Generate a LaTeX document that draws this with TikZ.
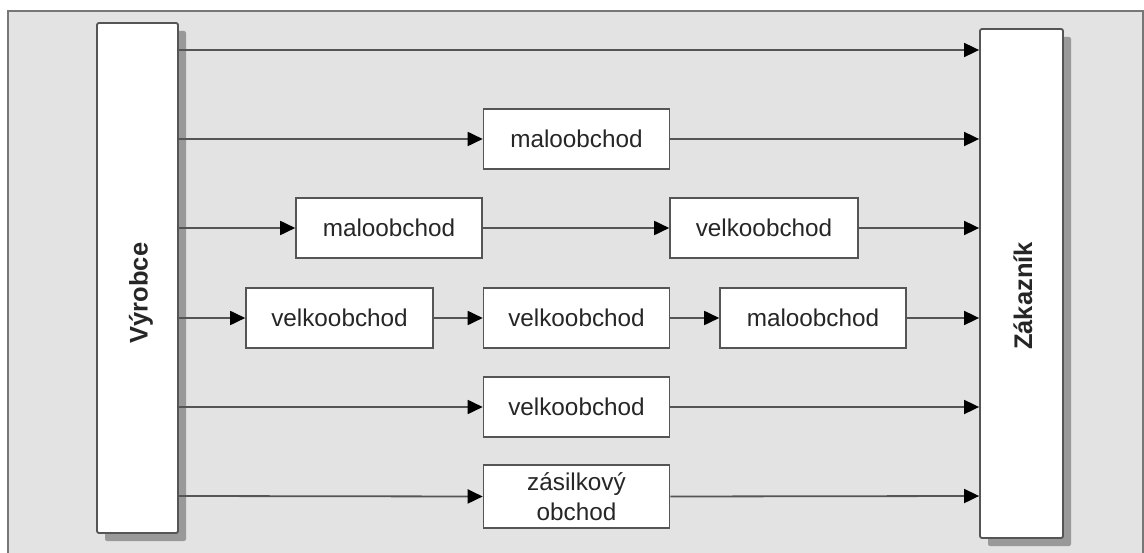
\documentclass[tikz,border=0pt]{standalone}
\usepackage{fontspec}
\setmainfont{Liberation Sans}
\usetikzlibrary{arrows.meta,shadows}
\definecolor{bg}{HTML}{E3E3E3}
\definecolor{ln}{HTML}{555555}
\definecolor{sh}{HTML}{999999}
\tikzset{
  bigbox/.style={draw=ln, line width=1.8pt, fill=white, rounded corners=2pt,
    drop shadow={shadow xshift=8pt, shadow yshift=-8pt, fill=sh, opacity=1},
    inner sep=0pt},
  smallbox/.style={draw=ln, line width=1.6pt, fill=white, minimum width=186pt,
    minimum height=60pt, inner sep=0pt, align=center,
    font=\fontsize{24.3}{30}\selectfont, text=black!85},
  arr/.style={draw=ln, line width=1.8pt, -{Triangle[length=15pt,width=14pt,fill=black,color=black]}},
  bigtext/.style={font=\bfseries\fontsize{25.5}{30}\selectfont, text=black!85}
}
\begin{document}
\begin{tikzpicture}[x=1pt,y=-1pt]
\useasboundingbox (0,0) rectangle (1144,553);
\begin{scope}
\clip (0,0) rectangle (1144,553);
\draw[fill=bg, draw=ln!80, line width=1.5pt] (8,11) rectangle (1143,570);
\end{scope}
% big boxes
\node[bigbox, minimum width=81pt, minimum height=510pt] (V) at (137.5,278) {};
\node[bigtext, rotate=90] (Vt) at (141,293) {Výrobce};
\node[bigbox, minimum width=83pt, minimum height=509pt] (Z) at (1021.5,283.5) {};
\node[bigtext, rotate=90] (Zt) at (1023,296) {Zákazník};
% row coordinates
\coordinate (r1) at (0,50);
\coordinate (r2) at (0,139);
\coordinate (r3) at (0,228);
\coordinate (r4) at (0,318);
\coordinate (r5) at (0,407);
\coordinate (r6) at (0,496);
% small boxes
\node[smallbox] (m2) at (576.5,139) {maloobchod};
\node[smallbox] (m3) at (389,228) {maloobchod};
\node[smallbox, minimum width=188pt] (v3) at (764,228) {velkoobchod};
\node[smallbox, minimum width=187pt] (v4a) at (339.5,318) {velkoobchod};
\node[smallbox] (v4b) at (576.5,318) {velkoobchod};
\node[smallbox] (m4) at (813,318) {maloobchod};
\node[smallbox] (v5) at (576.5,407) {velkoobchod};
\node[smallbox, minimum height=63pt] (z6) at (576.5,496.5) {zásilkový\\obchod};
% arrows
\draw[arr] (V.east |- r1) -- (Z.west |- r1);
\draw[arr] (V.east |- r2) -- (m2.west);
\draw[arr] (m2.east) -- (Z.west |- r2);
\draw[arr] (V.east |- r3) -- (m3.west);
\draw[arr] (m3.east) -- (v3.west);
\draw[arr] (v3.east) -- (Z.west |- r3);
\draw[arr] (V.east |- r4) -- (v4a.west);
\draw[arr] (v4a.east) -- (v4b.west);
\draw[arr] (v4b.east) -- (m4.west);
\draw[arr] (m4.east) -- (Z.west |- r4);
\draw[arr] (V.east |- r5) -- (v5.west);
\draw[arr] (v5.east) -- (Z.west |- r5);
\draw[arr] (V.east |- r6) -- (z6.west);
\draw[arr] (z6.east) -- (Z.west |- r6);
\end{tikzpicture}
\end{document}
